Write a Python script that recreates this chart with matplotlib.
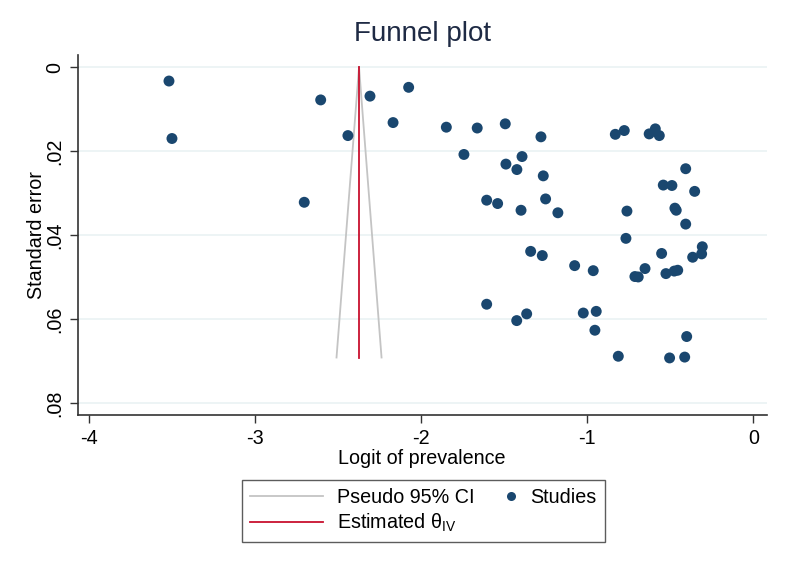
import numpy as np
import matplotlib.pyplot as plt
from matplotlib.lines import Line2D
from matplotlib.legend_handler import HandlerBase

plt.rcParams['font.family'] = ['Liberation Sans', 'DejaVu Sans']
plt.rcParams['mathtext.fontset'] = 'custom'
plt.rcParams['mathtext.rm'] = 'Liberation Sans'
plt.rcParams['mathtext.it'] = 'Liberation Sans'

# study estimates (logit of prevalence) and standard errors
logit = [-3.520, -3.502, -2.606, -2.309, -2.442, -2.170, -2.705,
         -2.076, -1.849, -1.663, -1.494, -1.279, -1.743, -1.393,
         -1.490, -1.424, -1.265, -1.606, -1.540, -1.399, -1.251,
         -1.177, -0.831, -0.777, -0.627, -0.590, -0.566, -0.407,
         -0.542, -0.490, -0.353, -0.761, -0.472, -0.464, -0.407,
         -0.767, -1.341, -1.271, -1.076, -0.964, -0.307, -0.311,
         -0.365, -0.552, -0.652, -0.713, -0.693, -0.526, -0.476,
         -0.455, -1.606, -1.425, -1.365, -1.024, -0.946, -0.954,
         -0.401, -0.813, -0.504, -0.413]
se = [0.0033, 0.0170, 0.0078, 0.0069, 0.0163, 0.0132, 0.0322,
      0.0048, 0.0143, 0.0145, 0.0135, 0.0166, 0.0208, 0.0213,
      0.0231, 0.0244, 0.0259, 0.0317, 0.0325, 0.0341, 0.0314,
      0.0347, 0.0160, 0.0151, 0.0159, 0.0147, 0.0163, 0.0242,
      0.0281, 0.0282, 0.0296, 0.0343, 0.0336, 0.0341, 0.0374,
      0.0408, 0.0439, 0.0449, 0.0473, 0.0485, 0.0428, 0.0445,
      0.0453, 0.0444, 0.0480, 0.0499, 0.0500, 0.0492, 0.0486,
      0.0484, 0.0565, 0.0604, 0.0588, 0.0586, 0.0582, 0.0627,
      0.0642, 0.0689, 0.0693, 0.0691]

theta = -2.375
se_max = 0.0692
yticks = [0, 0.02, 0.04, 0.06, 0.08]
ytick_labels = ["0", ".02", ".04", ".06", ".08"]
xticks = [-4, -3, -2, -1, 0]

navy = "#1a476f"
fs = 14.2


class RightMarker(HandlerBase):
    # marker sits at the right end of the handle box, close to its label
    def create_artists(self, legend, orig, xdescent, ydescent, width, height,
                       fontsize, trans):
        m = Line2D([width - xdescent - 4], [height / 2 - ydescent],
                   marker="o", linestyle="none", markersize=6.5,
                   color=navy, markeredgewidth=0, transform=trans)
        return [m]


fig = plt.figure(figsize=(7.87, 5.72), dpi=100)
ax = fig.add_axes([0.0987, 0.2745, 0.8755, 0.6293])

for y in yticks:
    ax.axhline(y, color="#eaf2f3", linewidth=1.2, zorder=0)

se_line = np.array([0, se_max])
ci_l, = ax.plot(theta - 1.96 * se_line, se_line, color="#c4c4c4", linewidth=1.3)
ax.plot(theta + 1.96 * se_line, se_line, color="#c4c4c4", linewidth=1.3)
est_l, = ax.plot([theta, theta], [0, se_max], color="#c8102e", linewidth=1.3)
pts = ax.scatter(logit, se, s=62, color=navy, edgecolors="none", zorder=3)

ax.set_xlim(-4.07, 0.081)
ax.set_ylim(0.0829, -0.0029)
ax.set_xticks(xticks)
ax.set_xticklabels([str(t) for t in xticks])
ax.set_yticks(yticks)
ax.set_yticklabels(ytick_labels, rotation=90, va="center")
ax.tick_params(labelsize=fs, length=6, width=1, color="#333333", pad=4)

for s in ["top", "right"]:
    ax.spines[s].set_visible(False)
for s in ["left", "bottom"]:
    ax.spines[s].set_color("#333333")
    ax.spines[s].set_linewidth(1.2)

ax.set_xlabel("Logit of prevalence", fontsize=fs, labelpad=1)
ax.set_ylabel("Standard error", fontsize=fs, labelpad=-1)
ax.set_title("Funnel plot", fontsize=20, color="#1e2a44", pad=10)

leg = fig.legend([ci_l, est_l, pts],
                 ["Pseudo 95% CI", r"Estimated $\theta_{\mathrm{IV}}$", "Studies"],
                 ncol=2, loc="center", bbox_to_anchor=(0.538, 0.1066),
                 fontsize=fs, fancybox=False, edgecolor="#333333",
                 handlelength=3.7, handletextpad=0.7, columnspacing=-1.55,
                 borderpad=0.4, labelspacing=0.25,
                 handler_map={pts: RightMarker()})
leg.get_frame().set_linewidth(1.0)

fig.savefig("out.png", dpi=100)
